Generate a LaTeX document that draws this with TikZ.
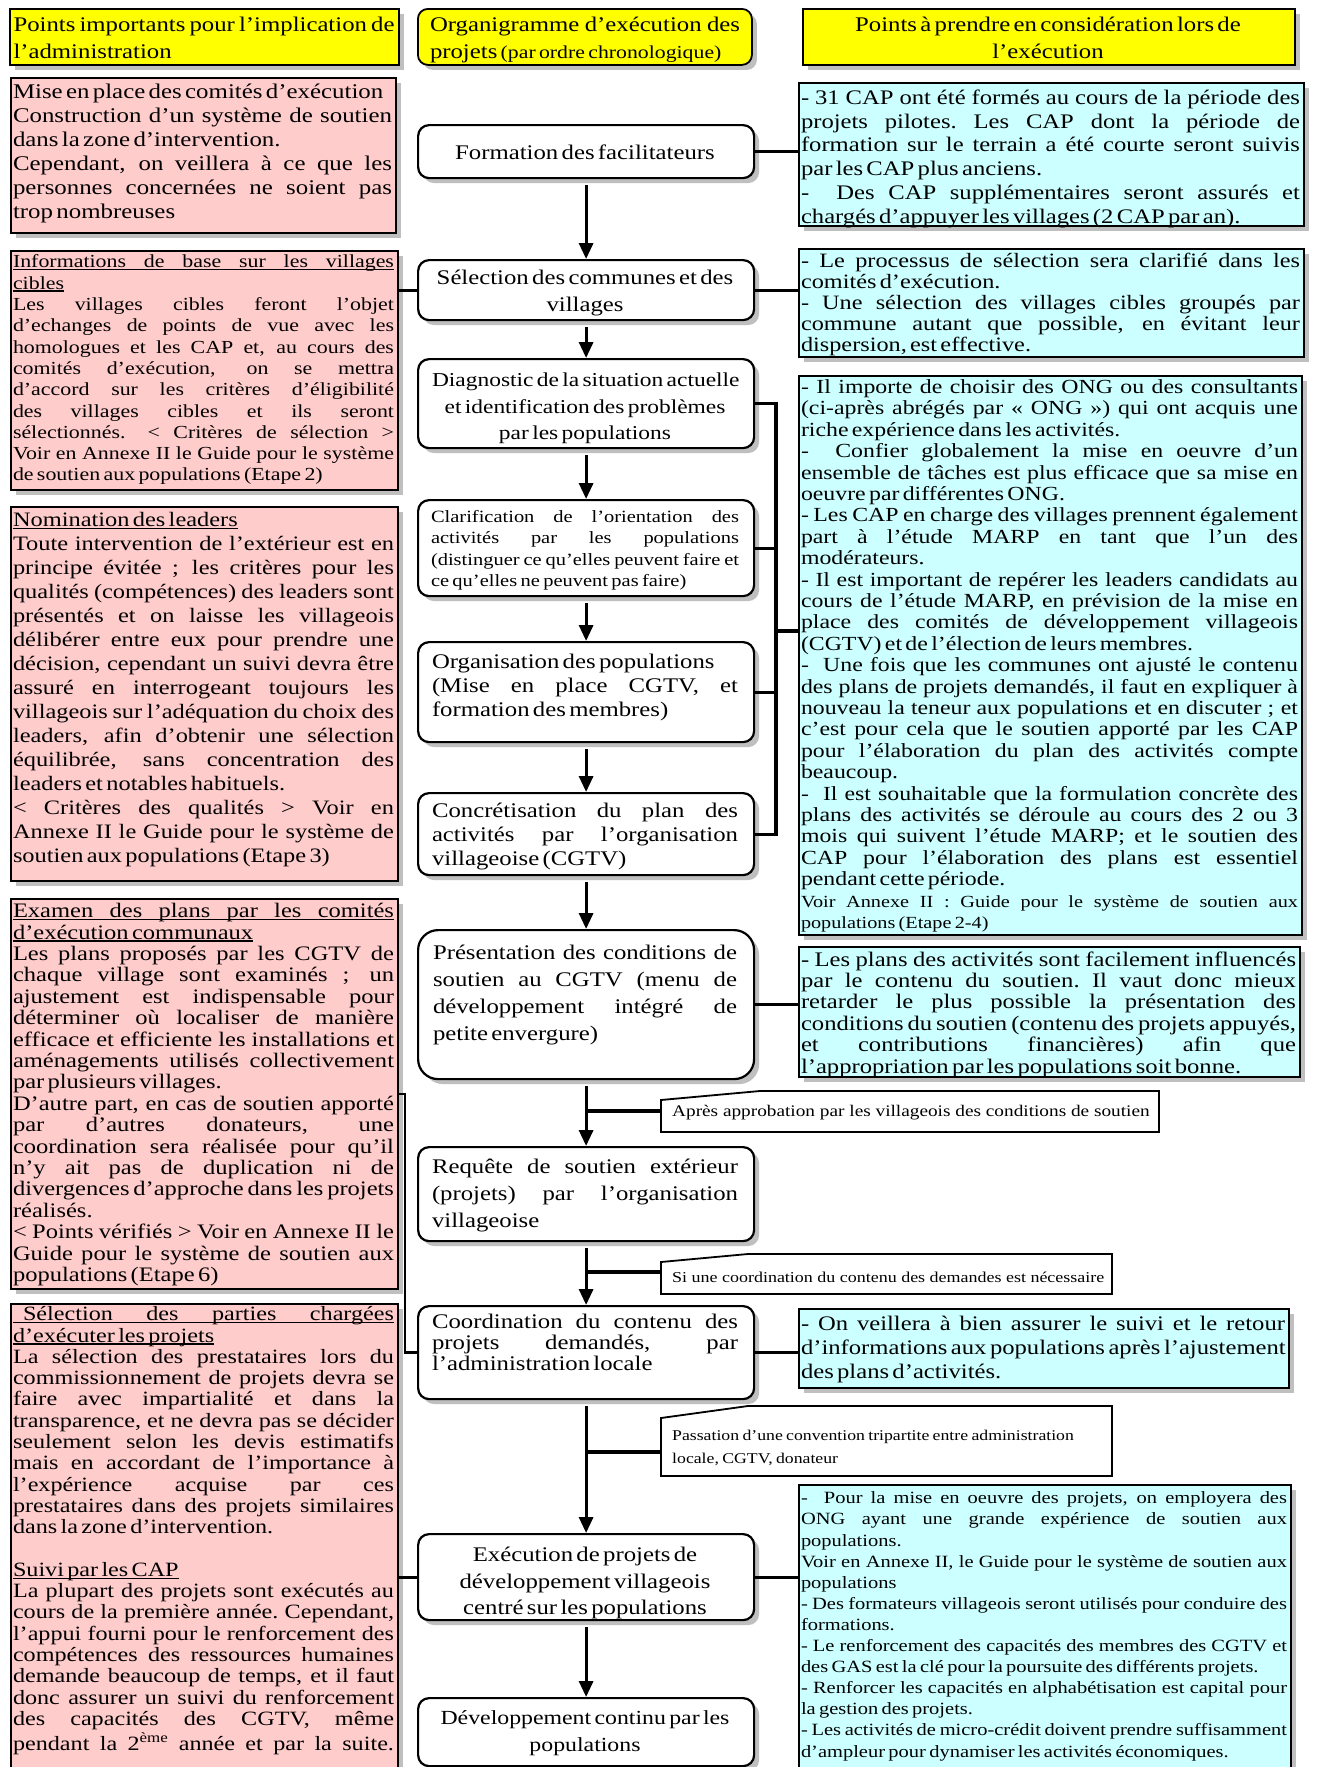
\documentclass[tikz,border=0pt]{standalone}
\usepackage{fontspec}
\setmainfont{Liberation Serif}[FakeStretch=1.19]
\usetikzlibrary{arrows.meta,shadows}
\definecolor{hdryellow}{HTML}{FFFF00}
\definecolor{notepink}{HTML}{FFCCCC}
\definecolor{notecyan}{HTML}{CCFFFF}
\setlength\parindent{0pt}
\lineskiplimit=-\maxdimen
% font size / baseline skip
\newcommand\fz[2]{\fontsize{#1}{#2}\selectfont}
% one line of text: justified, ragged, centred, underlined
\newcommand\jspaces{\spaceskip=.25em plus 1fil minus .08em\xspaceskip=\spaceskip}
\newcommand\lnJ[1]{\par\hbox to\hsize{\jspaces\strut#1}}
\newcommand\lnR[1]{\par\hbox to\hsize{\strut#1\hfil}}
\newcommand\lnC[1]{\par\hbox to\hsize{\hfil\strut#1\hfil}}
\newcommand\lnUJ[1]{\par\hbox to\hsize{\jspaces\strut\rlap{\rule[-2.5pt]{\hsize}{1.3pt}}#1}}
\newcommand\lnUR[1]{\par\setbox0\hbox{#1}\hbox to\hsize{\strut\rlap{\rule[-2.5pt]{\wd0}{1.3pt}}\box0\hfil}}
\begin{document}
\begin{tikzpicture}[x=1pt,y=-1pt,
  shadowed/.style={drop shadow={shadow xshift=5pt,shadow yshift=-5pt,opacity=1,fill=black!25}},
  frame/.style={draw=black, line width=1.8pt, inner sep=0pt, anchor=north west, shadowed},
  hdrbox/.style={frame, fill=hdryellow},
  pinkbox/.style={frame, fill=notepink},
  cyanbox/.style={frame, fill=notecyan},
  stepbox/.style={frame, fill=white, line width=2.2pt, rounded corners=11pt},
  txt/.style={inner sep=0pt, anchor=center, text width=#1},
  conn/.style={line width=3.2pt},
  thinconn/.style={line width=2.4pt},
  flow/.style={line width=3.2pt, -{Triangle[length=16pt,width=14pt]}, shorten <=6pt},
  callout/.style={draw=black, line width=1.8pt, fill=white, line join=miter}
]
\path[use as bounding box, fill=white] (0,0) rectangle (1317,1767);

% ---------- headers ----------
\node[hdrbox, minimum width=389pt, minimum height=56pt] (h1) at (9,8) {};
\node[hdrbox, rounded corners=10pt, minimum width=334pt, minimum height=56pt] (h2) at (417,8) {};
\node[hdrbox, minimum width=492pt, minimum height=56pt] (h3) at (802,8) {};
\node[txt=381pt] (h1t) at (204,36) {\fz{20.8}{27}%
 \lnJ{Points importants pour l’implication de}
 \lnR{l’administration}};
\node[txt=310pt] (h2t) at (585,36) {\fz{20.8}{27}%
 \lnJ{Organigramme d’exécution des}
 \lnR{projets {\fz{18.3}{27}(par ordre chronologique)}}};
\node[txt=480pt] (h3t) at (1048,36) {\fz{20.8}{27}%
 \lnC{Points à prendre en considération lors de}
 \lnC{l’exécution}};

% ---------- left column ----------
\node[pinkbox, minimum width=385pt, minimum height=155pt] (l1) at (10,77) {};
\node[pinkbox, minimum width=387pt, minimum height=239pt] (l2) at (10,250) {};
\node[pinkbox, minimum width=387pt, minimum height=374pt] (l3) at (10,506) {};
\node[pinkbox, minimum width=387pt, minimum height=390pt] (l4) at (10,898) {};
\node[pinkbox, minimum width=387pt, minimum height=475pt] (l5) at (10,1303) {};

\node[txt=379pt] (l1t) at (202.5,150) {\fz{20.9}{24}%
 \lnR{Mise en place des comités d’exécution}
 \lnJ{Construction d’un système de soutien}
 \lnR{dans la zone d’intervention.}
 \lnJ{Cependant, on veillera à ce que les}
 \lnJ{personnes concernées ne soient pas}
 \lnR{trop nombreuses}};
\node[txt=381pt] (l2t) at (203.5,367) {\fz{18.4}{21.3}%
 \lnUJ{Informations de base sur les villages}
 \lnUR{cibles}
 \lnJ{Les villages cibles feront l’objet}
 \lnJ{d’echanges de points de vue avec les}
 \lnJ{homologues et les CAP et, au cours des}
 \lnJ{comités d’exécution, on se mettra}
 \lnJ{d’accord sur les critères d’éligibilité}
 \lnJ{des villages cibles et ils seront}
 \lnJ{sélectionnés.\kern1.2em < Critères de sélection >}
 \lnJ{Voir en Annexe II le Guide pour le système}
 \lnR{de soutien aux populations (Etape 2)}};
\node[txt=381pt] (l3t) at (203.5,686) {\fz{20.5}{24}%
 \lnUR{Nomination des leaders}
 \lnJ{Toute intervention de l’extérieur est en}
 \lnJ{principe évitée ; les critères pour les}
 \lnJ{qualités (compétences) des leaders sont}
 \lnJ{présentés et on laisse les villageois}
 \lnJ{délibérer entre eux pour prendre une}
 \lnJ{décision, cependant un suivi devra être}
 \lnJ{assuré en interrogeant toujours les}
 \lnJ{villageois sur l’adéquation du choix des}
 \lnJ{leaders, afin d’obtenir une sélection}
 \lnJ{équilibrée, sans concentration des}
 \lnR{leaders et notables habituels.}
 \lnJ{< Critères des qualités > Voir en}
 \lnJ{Annexe II le Guide pour le système de}
 \lnR{soutien aux populations (Etape 3)}};
\node[txt=381pt] (l4t) at (203.5,1092) {\fz{20.6}{21.4}%
 \lnUJ{Examen des plans par les comités}
 \lnUR{d’exécution communaux}
 \lnJ{Les plans proposés par les CGTV de}
 \lnJ{chaque village sont examinés ; un}
 \lnJ{ajustement est indispensable pour}
 \lnJ{déterminer où localiser de manière}
 \lnJ{efficace et efficiente les installations et}
 \lnJ{aménagements utilisés collectivement}
 \lnR{par plusieurs villages.}
 \lnJ{D’autre part, en cas de soutien apporté}
 \lnJ{par d’autres donateurs, une}
 \lnJ{coordination sera réalisée pour qu’il}
 \lnJ{n’y ait pas de duplication ni de}
 \lnJ{divergences d’approche dans les projets}
 \lnR{réalisés.}
 \lnJ{< Points vérifiés > Voir en Annexe II le}
 \lnJ{Guide pour le système de soutien aux}
 \lnR{populations (Etape 6)}};
\node[txt=381pt] (l5t) at (203.5,1528) {\fz{20.3}{21.3}%
 \lnUJ{\kern10pt Sélection des parties chargées}
 \lnUR{d’exécuter les projets}
 \lnJ{La sélection des prestataires lors du}
 \lnJ{commissionnement de projets devra se}
 \lnJ{faire avec impartialité et dans la}
 \lnJ{transparence, et ne devra pas se décider}
 \lnJ{seulement selon les devis estimatifs}
 \lnJ{mais en accordant de l’importance à}
 \lnJ{l’expérience acquise par ces}
 \lnJ{prestataires dans des projets similaires}
 \lnR{dans la zone d’intervention.}
 \lnR{}
 \lnUR{Suivi par les CAP}
 \lnJ{La plupart des projets sont exécutés au}
 \lnJ{cours de la première année. Cependant,}
 \lnJ{l’appui fourni pour le renforcement des}
 \lnJ{compétences des ressources humaines}
 \lnJ{demande beaucoup de temps, et il faut}
 \lnJ{donc assurer un suivi du renforcement}
 \lnJ{des capacités des CGTV, même}
 \lnJ{pendant la 2\textsuperscript{ème} année et par la suite.}};

% ---------- right column ----------
\node[cyanbox, minimum width=505pt, minimum height=143pt] (r1) at (798,82) {};
\node[cyanbox, minimum width=505pt, minimum height=108pt] (r2) at (798,248) {};
\node[cyanbox, minimum width=503pt, minimum height=559pt] (r3) at (798,375) {};
\node[cyanbox, minimum width=501pt, minimum height=130pt] (r4) at (798,946) {};
\node[cyanbox, minimum width=490pt, minimum height=79pt] (r5) at (798,1308) {};
\node[cyanbox, minimum width=492pt, minimum height=290pt] (r6) at (798,1484) {};

\node[txt=499pt] (r1t) at (1050.5,155.5) {\fz{20.7}{23.9}%
 \lnJ{- 31 CAP ont été formés au cours de la période des}
 \lnJ{projets pilotes. Les CAP dont la période de}
 \lnJ{formation sur le terrain a été courte seront suivis}
 \lnR{par les CAP plus anciens.}
 \lnJ{- \ Des CAP supplémentaires seront assurés et}
 \lnR{chargés d’appuyer les villages (2 CAP par an).}};
\node[txt=499pt] (r2t) at (1050.5,302) {\fz{20.4}{21}%
 \lnJ{- Le processus de sélection sera clarifié dans les}
 \lnR{comités d’exécution.}
 \lnJ{- Une sélection des villages cibles groupés par}
 \lnJ{commune autant que possible, en évitant leur}
 \lnR{dispersion, est effective.}};
\node[txt=497pt] (r3t) at (1049.5,653.5) {\fz{20}{21.4}%
 \lnJ{- Il importe de choisir des ONG ou des consultants}
 \lnJ{(ci-après abrégés par « ONG ») qui ont acquis une}
 \lnR{riche expérience dans les activités.}
 \lnJ{- \ Confier globalement la mise en oeuvre d’un}
 \lnJ{ensemble de tâches est plus efficace que sa mise en}
 \lnR{oeuvre par différentes ONG.}
 \lnJ{- Les CAP en charge des villages prennent également}
 \lnJ{part à l’étude MARP en tant que l’un des}
 \lnR{modérateurs.}
 \lnJ{- Il est important de repérer les leaders candidats au}
 \lnJ{cours de l’étude MARP, en prévision de la mise en}
 \lnJ{place des comités de développement villageois}
 \lnR{(CGTV) et de l’élection de leurs membres.}
 \lnJ{- \ Une fois que les communes ont ajusté le contenu}
 \lnJ{des plans de projets demandés, il faut en expliquer à}
 \lnJ{nouveau la teneur aux populations et en discuter ; et}
 \lnJ{c’est pour cela que le soutien apporté par les CAP}
 \lnJ{pour l’élaboration du plan des activités compte}
 \lnR{beaucoup.}
 \lnJ{- \ Il est souhaitable que la formulation concrète des}
 \lnJ{plans des activités se déroule au cours des 2 ou 3}
 \lnJ{mois qui suivent l’étude MARP; et le soutien des}
 \lnJ{CAP pour l’élaboration des plans est essentiel}
 \lnR{pendant cette période.}
 \fz{17}{21.4}%
 \lnJ{Voir Annexe II : Guide pour le système de soutien aux}
 \lnR{populations (Etape 2-4)}};
\node[txt=495pt] (r4t) at (1048.5,1012) {\fz{20.7}{21.4}%
 \lnJ{- Les plans des activités sont facilement influencés}
 \lnJ{par le contenu du soutien. Il vaut donc mieux}
 \lnJ{retarder le plus possible la présentation des}
 \lnJ{conditions du soutien (contenu des projets appuyés,}
 \lnJ{et contributions financières) afin que}
 \lnR{l’appropriation par les populations soit bonne.}};
\node[txt=484pt] (r5t) at (1043,1346) {\fz{20.7}{23.7}%
 \lnJ{- On veillera à bien assurer le suivi et le retour}
 \lnJ{d’informations aux populations après l’ajustement}
 \lnR{des plans d’activités.}};
\node[txt=486pt] (r6t) at (1044,1623) {\fz{17.2}{21.1}%
 \lnJ{- \ Pour la mise en oeuvre des projets, on employera des}
 \lnJ{ONG ayant une grande expérience de soutien aux}
 \lnR{populations.}
 \lnJ{Voir en Annexe II, le Guide pour le système de soutien aux}
 \lnR{populations}
 \lnJ{- Des formateurs villageois seront utilisés pour conduire des}
 \lnR{formations.}
 \lnJ{- Le renforcement des capacités des membres des CGTV et}
 \lnR{des GAS est la clé pour la poursuite des différents projets.}
 \lnJ{- Renforcer les capacités en alphabétisation est capital pour}
 \lnR{la gestion des projets.}
 \lnJ{- Les activités de micro-crédit doivent prendre suffisamment}
 \lnR{d’ampleur pour dynamiser les activités économiques.}};

% ---------- central flow ----------
\node[stepbox, minimum width=336pt, minimum height=53pt] (c1) at (417,124) {};
\node[stepbox, minimum width=336pt, minimum height=60pt] (c2) at (417,259) {};
\node[stepbox, minimum width=336pt, minimum height=89pt] (c3) at (417,358) {};
\node[stepbox, minimum width=336pt, minimum height=96pt] (c4) at (417,499) {};
\node[stepbox, minimum width=336pt, minimum height=100pt] (c5) at (417,641) {};
\node[stepbox, minimum width=336pt, minimum height=82pt] (c6) at (417,792) {};
\node[stepbox, rounded corners=20pt, minimum width=336pt, minimum height=149pt] (c7) at (417,929) {};
\node[stepbox, minimum width=336pt, minimum height=94pt] (c8) at (417,1146) {};
\node[stepbox, minimum width=336pt, minimum height=93pt] (c9) at (417,1305) {};
\node[stepbox, minimum width=336pt, minimum height=86pt] (c10) at (417,1533) {};
\node[stepbox, minimum width=336pt, minimum height=68pt] (c11) at (417,1697) {};

\node[txt=306pt] (c1t) at (585,150) {\fz{20.8}{26}%
 \lnC{Formation des facilitateurs}};
\node[txt=306pt] (c2t) at (585,289) {\fz{20.8}{27}%
 \lnC{Sélection des communes et des}
 \lnC{villages}};
\node[txt=306pt] (c3t) at (585,404) {\fz{19.7}{26.5}%
 \lnC{Diagnostic de la situation actuelle}
 \lnC{et identification des problèmes}
 \lnC{par les populations}};
\node[txt=308pt] (c4t) at (585,547) {\fz{17.2}{21.4}%
 \lnJ{Clarification de l’orientation des}
 \lnJ{activités par les populations}
 \lnJ{(distinguer ce qu’elles peuvent faire et}
 \lnR{ce qu’elles ne peuvent pas faire)}};
\node[txt=306pt] (c5t) at (585,684) {\fz{20.8}{23.7}%
 \lnR{Organisation des populations}
 \lnJ{(Mise en place CGTV, et}
 \lnR{formation des membres)}};
\node[txt=306pt] (c6t) at (585,833) {\fz{20.8}{23.7}%
 \lnJ{Concrétisation du plan des}
 \lnJ{activités par l’organisation}
 \lnR{villageoise (CGTV)}};
\node[txt=304pt] (c7t) at (585,991) {\fz{20.8}{27}%
 \lnJ{Présentation des conditions de}
 \lnJ{soutien au CGTV (menu de}
 \lnJ{développement intégré de}
 \lnR{petite envergure)}};
\node[txt=306pt] (c8t) at (585,1191) {\fz{20.8}{27}%
 \lnJ{Requête de soutien extérieur}
 \lnJ{(projets) par l’organisation}
 \lnR{villageoise}};
\node[txt=306pt] (c9t) at (585,1342) {\fz{20.8}{21.4}%
 \lnJ{Coordination du contenu des}
 \lnJ{projets demandés, par}
 \lnR{l’administration locale}};
\node[txt=306pt] (c10t) at (585,1579) {\fz{20.8}{26.5}%
 \lnC{Exécution de projets de}
 \lnC{développement villageois}
 \lnC{centré sur les populations}};
\node[txt=306pt] (c11t) at (585,1729) {\fz{20}{27}%
 \lnC{Développement continu par les}
 \lnC{populations}};

% ---------- condition callouts ----------
\draw[callout] (661,1100) -- (760,1091) -- (1159,1091) -- (1159,1132) -- (661,1132) -- cycle;
\draw[callout] (661,1262) -- (748,1254) -- (1112,1254) -- (1112,1294) -- (661,1294) -- cycle;
\draw[callout] (661,1418) -- (748,1406) -- (1112,1406) -- (1112,1476) -- (661,1476) -- cycle;
\node[anchor=west, inner sep=0pt] (a1t) at (672,1113)
 {\fz{16.2}{20}Après approbation par les villageois des conditions de soutien};
\node[anchor=west, inner sep=0pt] (a2t) at (672,1277)
 {\fz{15.1}{20}Si une coordination du contenu des demandes est nécessaire};
\node[anchor=west, inner sep=0pt, text width=430pt] (a3t) at (672,1444)
 {\fz{14.9}{22.5}%
  \lnR{Passation d’une convention tripartite entre administration}
  \lnR{locale, CGTV, donateur}};
\coordinate (a1w) at (661,1111);
\coordinate (a2w) at (661,1272);
\coordinate (a3w) at (661,1452);

% ---------- main sequence ----------
\draw[flow] (c1.south) -- (c2.north);
\draw[flow] (c2.south) -- (c3.north);
\draw[flow] (c3.south) -- (c4.north);
\draw[flow] (c4.south) -- (c5.north);
\draw[flow] (c5.south) -- (c6.north);
\draw[flow] (c6.south) -- (c7.north);
\draw[flow] (c7.south) -- (c8.north);
\draw[flow] (c8.south) -- (c9.north);
\draw[flow] (c9.south) -- (c10.north);
\draw[flow] (c10.south) -- (c11.north);

% branches to the callouts
\draw[conn] (a1w -| c7.south) -- (a1w);
\draw[conn] (a2w -| c8.south) -- (a2w);
\draw[conn] (a3w -| c9.south) -- (a3w);

% ---------- links to the side notes ----------
\draw[conn] (c1.east) -- (c1.east -| r1.west);
\draw[conn] (l2.east |- c2.west) -- (c2.west);
\draw[conn] (c2.east) -- (c2.east -| r2.west);
\coordinate (brk) at (776,631);
\draw[conn] (c3.east) -| (brk |- c6.east) -- (c6.east);
\draw[conn] (c4.east) -- (c4.east -| brk);
\draw[conn] (c5.east) -- (c5.east -| brk);
\draw[conn] (brk) -- (brk -| r3.west);
\draw[conn] (c7.east) -- (c7.east -| r4.west);
\draw[conn] (c9.east) -- (c9.east -| r5.west);
\draw[conn] (c10.east) -- (c10.east -| r6.west);
\coordinate (l4tap) at (397,1094);
\draw[thinconn] (l4tap) -- ++(8,0) |- (c9.west);
\draw[conn] (l5.east |- c10.west) -- (c10.west);
\end{tikzpicture}
\end{document}
